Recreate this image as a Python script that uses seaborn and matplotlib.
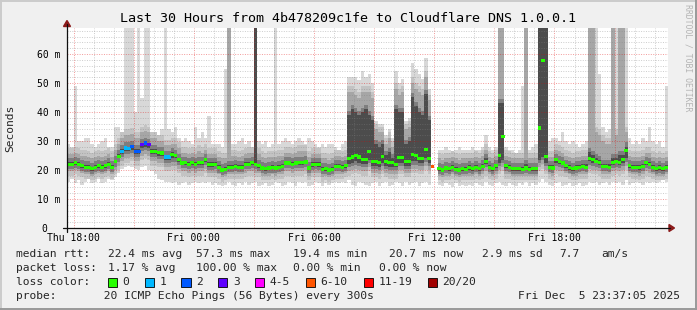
import numpy as np
import pandas as pd
import matplotlib
matplotlib.use("Agg")
import matplotlib.pyplot as plt
import matplotlib.dates as mdates
from matplotlib.ticker import MultipleLocator, FuncFormatter
from matplotlib.patches import Rectangle, Polygon
from matplotlib.lines import Line2D
import seaborn as sns

# ---------------- data ----------------
nan = float("nan")
title = "Last 30 Hours from 4b478209c1fe to Cloudflare DNS 1.0.0.1"
start_time = "2025-12-04 17:40"
step = "10min"

median_ms = [
    22, 22, 22.5, 22, 21.5, 21, 21, 20.5, 21, 21.5,
    21, 21.5, 22, 21, 23, 24.7, 26.4, 27.6, 27.5, 28,
    26.5, 26.5, 28.7, 29.3, 28.7, 26.5, 26.5, 26, 25.9, 24.5,
    24.5, 25.3, 25, 23.6, 22.4, 22.5, 22, 22.5, 22, 22.5,
    22.5, 23.5, 21.8, 21.8, 22, 20.9, 20, 20.3, 21, 21,
    21.3, 21, 21, 22, 22, 22.5, 22, 21.5, 20.7, 20.5,
    20.7, 20.9, 20.7, 21, 21.3, 22.4, 22.4, 22, 22.4, 22.6,
    22.6, 22.8, 20.7, 21.8, 22, 21.8, 20.3, 20.5, 20, 20.3,
    21.3, 21.3, 21, 21.5, 24, 24.5, 25, 24.5, 23.5, 23.5,
    26.4, 23, 23, 22.5, 24.7, 23, 22.5, 22.5, 22, 24.4,
    24.4, 23, 23, 25.3, 25, 24, 24, 27, 24, 21.3,
    nan, 20.5, 20, 20.7, 20.5, 21, 20.3, 20, 20.5, 20.3,
    20.8, 20.5, 21, 20.5, 21.3, 23, 21, 20.5, 21.5, 25,
    31.6, 21.5, 21, 20.5, 20.5, 20.5, 20.3, 20.7, 20.3, 20.5,
    20.5, 34.5, 57.7, 24.7, 21, 20.7, 23.5, 23, 22.4, 21.5,
    20.8, 20.5, 20.7, 21, 21.3, 21, 24, 23.5, 23, 22.6,
    21.3, 21.3, 21, 22.5, 23, 22.5, 23.5, 26.7, 21.5, 21,
    21, 20.8, 21.3, 22.5, 22, 21, 20.5, 20.8, 20.5, 21,
]

# upper edge of the light smoke (max ping)
smoke_max = [
    29, 28, 49, 30, 30, 31, 31, 29, 28, 29,
    30, 31, 28, 28, 35, 35, 33, 70, 70, 70,
    40, 70, 45, 70, 70, 33, 33, 32, 34, 70,
    34, 33, 35, 31, 30, 31, 30, 29, 35, 31,
    33, 31, 38.5, 29, 29, 29, 28, 55, 70, 29,
    29, 30, 31, 29, 30, 28, 70, 30, 29, 30,
    28, 29, 70, 29, 30, 31, 30, 29, 30, 31,
    30, 29, 31, 30, 29, 28, 29, 28, 29, 29,
    28, 27, 29, 30, 52, 52, 52, 51, 54, 52,
    53, 50, 37, 36, 36, 32, 34, 31, 54, 50,
    51.5, 37, 38, 57, 55, 53, 51.5, 58.5, 48, 47,
    nan, 27, 27, 28, 27, 26.5, 27, 28, 27, 27,
    27, 28, 27, 27, 28, 32, 28, 27, 28, 70,
    70, 28, 27, 27, 26, 27, 49, 70, 27, 28,
    29, 70, 70, 70, 30, 31, 31, 30, 33, 30,
    29, 30, 29, 28, 29, 30, 70, 70, 70, 53,
    35, 33, 34, 70, 70, 70, 70, 70, 31, 29,
    30, 29, 31, 30, 35, 30, 29, 30, 28, 49,
]

# upper edge of the medium smoke
smoke_hi = [
    25.5, 25.5, 26, 25.5, 25, 25, 24.5, 24, 24.5, 25,
    24.5, 25, 25.5, 24.5, 27, 29, 31, 32, 32, 32.5,
    31, 31, 33, 33.5, 33, 31, 31, 30, 30, 28.5,
    28.5, 29, 29, 27.5, 26, 26, 25.5, 26, 25.5, 26.5,
    26, 27, 25.5, 25.5, 25.5, 24.5, 24, 24, 70, 25,
    25, 24.5, 25, 25.5, 26, 26, 70, 25.5, 24.5, 24,
    24.5, 24.5, 24.5, 25, 25, 26, 26, 25.5, 26, 26.5,
    26.5, 26.5, 24.5, 25.5, 25.5, 25.5, 24, 24, 23.5, 24,
    25, 25, 24.5, 25, 47, 47, 46, 45, 47, 47,
    47, 45, 34, 33, 33, 29, 31, 28, 48, 46,
    47, 34, 35, 50, 48, 47, 46, 52, 44, 42,
    nan, 24, 23.5, 24, 24, 24.5, 24, 23.5, 24, 24,
    24, 24, 24.5, 24, 25, 27, 24.5, 24, 25, 70,
    70, 25, 24.5, 24, 24, 24, 24, 70, 24, 24,
    24, 70, 70, 70, 24.5, 24.5, 27, 26.5, 26, 25,
    24.5, 24, 24.5, 24.5, 25, 25, 70, 70, 33, 32,
    30, 29, 29, 70, 32, 70, 70, 33, 25, 24.5,
    24.5, 24.5, 25, 26, 26, 24.5, 24, 24.5, 24, 24.5,
]

# upper edge of the dark smoke core
smoke_core = [
    23.5, 23.5, 24, 23.5, 23, 22.5, 22.5, 22, 22.5, 23,
    22.5, 23, 23.5, 22.5, 24.5, 26.5, 28, 29, 29, 29.5,
    28, 28, 30, 30.5, 30, 28, 28, 27.5, 27.5, 26,
    26, 27, 26.5, 25, 24, 24, 23.5, 24, 23.5, 24,
    24, 25, 23.5, 23.5, 23.5, 22.5, 21.5, 22, 22.5, 22.5,
    23, 22.5, 22.5, 23.5, 23.5, 24, 70, 23, 22, 22,
    22, 22.5, 22, 22.5, 23, 24, 24, 23.5, 24, 24,
    24, 24.5, 22, 23.5, 23.5, 23.5, 22, 22, 21.5, 22,
    23, 23, 22.5, 23, 40, 42, 41, 40, 41, 42,
    40, 38, 30, 29, 30, 26, 27, 25, 42, 41,
    41, 30, 31, 46, 43, 41, 40, 47, 38, 33,
    nan, 22, 21.5, 22, 22, 22.5, 22, 21.5, 22, 22,
    22.5, 22, 22.5, 22, 23, 25, 22.5, 22, 23, 44,
    44, 23, 22.5, 22, 22, 22, 22, 23, 22, 22,
    22, 70, 70, 70, 22.5, 22.5, 25, 24.5, 24, 23,
    22.5, 22, 22.5, 22.5, 23, 23, 27, 26, 25, 24.5,
    23, 23, 23, 25, 25, 26, 26, 29, 23, 22.5,
    22.5, 22.5, 23, 24, 23.5, 22.5, 22, 22.5, 22, 22.5,
]

# lower edge of the medium smoke
smoke_lo = [
    19.5, 19.5, 20, 19.5, 19, 18.5, 18.5, 18, 18.5, 19,
    18.5, 19, 19.5, 18.5, 20, 21.5, 23, 24, 24, 24.5,
    23, 23, 25, 25.5, 25, 23, 23, 22.5, 22.5, 21,
    21, 21.5, 21.5, 20.5, 19.5, 19.5, 19, 19.5, 19, 19.5,
    19.5, 20.5, 19, 19, 19, 18.5, 17.5, 18, 18.5, 18.5,
    18.5, 18.5, 18.5, 19, 19.5, 19.5, 19, 19, 18, 18,
    18, 18.5, 18, 18.5, 18.5, 19.5, 19.5, 19, 19.5, 19.5,
    19.5, 20, 18, 19, 19, 19, 17.5, 18, 17.5, 18,
    18.5, 18.5, 18.5, 19, 19.5, 20, 20.5, 20, 19.5, 19.5,
    21, 19, 19, 18.5, 20, 19, 18.5, 18.5, 18.5, 20,
    20, 19, 19, 20.5, 20.5, 20, 20, 21.5, 20, 18.5,
    nan, 18, 17.5, 18, 18, 18.5, 18, 17.5, 18, 18,
    18, 18, 18.5, 18, 18.5, 19.5, 18.5, 18, 18.5, 20,
    21, 18.5, 18.5, 18, 18, 18, 18, 18, 18, 18,
    18, 21, 22, 20, 18.5, 18, 20, 19.5, 19.5, 19,
    18.5, 18, 18, 18.5, 18.5, 18.5, 20.5, 20, 20, 19.5,
    18.5, 18.5, 18.5, 19.5, 20, 19.5, 20, 21.5, 19, 18.5,
    18.5, 18, 18.5, 19.5, 19, 18.5, 18, 18, 18, 18.5,
]

# lower edge of the light smoke (min ping)
smoke_min = [
    16, 17, 15.5, 16.5, 15, 16, 17, 15.5, 16, 17,
    15.5, 16, 17, 16.5, 17.5, 19, 20.5, 21, 21.5, 21,
    20.5, 20, 21, 21.5, 20, 19.5, 18.5, 17, 16.5, 16,
    16, 15.5, 16, 15, 15.5, 16, 15, 15.5, 16, 15.5,
    16, 15.5, 16, 15, 15.5, 15, 14.5, 15, 16, 15,
    14.5, 15.5, 15, 16, 15, 15.5, 16, 14.5, 15, 15.5,
    14.5, 15, 16, 15.5, 14.5, 15, 16, 15.5, 14.5, 16,
    15.5, 16, 14.5, 15, 16, 15.5, 14.5, 15.5, 15, 15.5,
    16, 15.5, 16, 15.5, 16.5, 15, 14.5, 16, 15.5, 15,
    14.5, 15.5, 16, 14.5, 15.5, 16, 14.5, 15, 16, 15.5,
    14.5, 16, 15, 15.5, 16, 14.5, 15.5, 16, 15, 16,
    nan, 15, 14.5, 15.5, 15, 14, 15.5, 14.5, 15, 14.5,
    15, 14.5, 15.5, 15, 14.5, 16, 15, 14.5, 15.5, 16,
    15, 14.5, 15.5, 15, 14.5, 15.5, 15, 16, 14.5, 15.5,
    15, 16, 17, 16, 15, 14.5, 15.5, 16, 14.5, 15,
    15.5, 14.5, 15, 15.5, 14.5, 15, 16, 15.5, 16, 15,
    15.5, 16, 15, 16, 15.5, 16, 15, 16.5, 15, 15.5,
    16, 15.5, 15, 16, 15.5, 16, 15.5, 16, 16.5, 16,
]

# lost pings (out of 20) per step; all other steps lost none
loss_pings = {16: 1, 17: 1, 18: 1, 19: 2, 20: 2, 21: 2, 22: 3, 23: 2, 24: 3,
              29: 1, 30: 1, 109: 7}

loss_labels = ["0", "1", "2", "3", "4-5", "6-10", "11-19", "20/20"]
loss_upper = [0, 1, 2, 3, 5, 10, 19, 20]
loss_colors = ["#26ff00", "#00b8ff", "#0059ff", "#5e00ff",
               "#ff00ff", "#ff5500", "#ff0000", "#a10000"]

ytick_vals = [0, 10, 20, 30, 40, 50, 60]
ytick_labels = ["0  ", "10 m", "20 m", "30 m", "40 m", "50 m", "60 m"]
y_max = 69

rtt_label = "median rtt:"
rtt_items = ["22.4 ms avg", "57.3 ms max", "19.4 ms min", "20.7 ms now",
             "2.9 ms sd", "7.7", "am/s"]
loss_label = "packet loss:"
loss_items = ["1.17 % avg", "100.00 % max", "0.00 % min", "0.00 % now"]
loss_title = "loss color:"
probe_text = "probe:       20 ICMP Echo Pings (56 Bytes) every 300s"
stamp_text = "Fri Dec  5 23:37:05 2025"
watermark = "RRDTOOL / TOBI OETIKER"

# ---------------- drawing ----------------
sns.set_theme(style="white")
MONO = ["DejaVu Sans Mono"]
plt.rcParams["font.family"] = MONO

W, H = 697, 310
fig = plt.figure(figsize=(W / 100, H / 100), dpi=100)
fig.patch.set_facecolor("#f0f0f0")


def fx(x):
    return x / W


def fy(y):
    return 1 - y / H


L, R, T, B = 67, 668, 28, 228
ax = fig.add_axes([fx(L), fy(B), (R - L) / W, (B - T) / H])
ax.set_facecolor("white")
for s in ax.spines.values():
    s.set_visible(False)

n = len(median_ms)
for arr in (smoke_max, smoke_hi, smoke_core, smoke_lo, smoke_min):
    assert len(arr) == n
t0 = pd.Timestamp(start_time)
edges = pd.date_range(t0, periods=n + 1, freq=step)
centers = edges[:-1] + pd.Timedelta(step) / 2

med = np.asarray(median_ms, float)
hi_o = np.asarray(smoke_max, float)
hi_i = np.asarray(smoke_hi, float)
hi_c = np.asarray(smoke_core, float)
lo_i = np.asarray(smoke_lo, float)
lo_o = np.asarray(smoke_min, float)


def ext(a):
    return np.append(a, a[-1])


core_lo = np.minimum(med - 0.7, lo_i + 2.5)
core_hi = np.maximum(med + 0.5, hi_c - 0.9)
layers = [
    (lo_o, hi_o, "#d8d8d8"),
    (np.maximum(lo_o, lo_i - 1.5), np.minimum(hi_o, hi_i + 2.0), "#c3c3c3"),
    (lo_i, hi_i, "#a6a6a6"),
    (np.maximum(lo_i, core_lo - 1.1), np.minimum(hi_i, core_hi + 1.4), "#7e7e7e"),
    (core_lo, core_hi, "#4c4c4c"),
]
for lo, hi, col in layers:
    ax.fill_between(edges, ext(lo), ext(hi), step="post", color=col,
                    linewidth=0, zorder=1)


# median rtt coloured by packet loss
def loss_cat(k):
    for lab, up in zip(loss_labels, loss_upper):
        if k <= up:
            return lab
    return loss_labels[-1]


df = pd.DataFrame({
    "time": centers,
    "median": med,
    "loss": [loss_cat(loss_pings.get(i, 0)) for i in range(n)],
}).dropna()
rect_marker = [(-1.15, -1), (1.15, -1), (1.15, 1), (-1.15, 1), (-1.15, -1)]
sns.scatterplot(data=df, x="time", y="median", hue="loss",
                palette=dict(zip(loss_labels, loss_colors)),
                hue_order=loss_labels, marker=rect_marker, s=7, linewidth=0,
                legend=False, ax=ax, zorder=5)

ax.set_xlim(edges[0], edges[-1])
ax.set_ylim(0, y_max)
ax.set_xlabel("")
ax.set_ylabel("")

# grid
ax.set_yticks(ytick_vals, labels=ytick_labels)
ax.yaxis.set_minor_locator(MultipleLocator(2))
ax.xaxis.set_major_locator(mdates.HourLocator(byhour=range(0, 24, 3)))
ax.xaxis.set_minor_locator(mdates.HourLocator())


def xfmt(v, pos):
    d = mdates.num2date(v)
    return d.strftime("%a %H:%M") if d.hour % 6 == 0 else ""


ax.xaxis.set_major_formatter(FuncFormatter(xfmt))
ax.set_axisbelow(False)
ax.grid(which="minor", color="#808080", alpha=0.4, linestyle=(0, (1, 1.5)),
        linewidth=0.7)
ax.grid(which="major", color="#e00000", alpha=0.4, linestyle=(0, (1, 1.5)),
        linewidth=0.7)
ax.tick_params(axis="both", which="both", length=0, labelsize=7, labelcolor="black")
ax.tick_params(axis="y", pad=5)
ax.tick_params(axis="x", pad=3.5)
for lab in ax.get_yticklabels():
    lab.set_fontfamily(MONO)

# axis lines + arrows (RRDtool style)
axis_col = "#101010"
arrow_col = "#8b1a1a"
fig.add_artist(Line2D([fx(63), fx(670)], [fy(228), fy(228)], color=axis_col,
                      lw=0.9, transform=fig.transFigure))
fig.add_artist(Line2D([fx(67), fx(67)], [fy(232), fy(24)], color=axis_col,
                      lw=0.9, transform=fig.transFigure))
fig.add_artist(Polygon([(fx(669), fy(224.5)), (fx(669), fy(231.5)), (fx(674.5), fy(228))],
                       closed=True, color=arrow_col, transform=fig.transFigure))
fig.add_artist(Polygon([(fx(63.5), fy(26.5)), (fx(70.5), fy(26.5)), (fx(67), fy(20.5))],
                       closed=True, color=arrow_col, transform=fig.transFigure))

# texts
fig.text(fx(348), fy(19), title, ha="center", va="center", fontsize=9.6,
         family=MONO, color="black")
fig.text(fx(10), fy(128), "Seconds", rotation=90, ha="center", va="center",
         fontsize=8.1, family=MONO)
fig.text(fx(688), fy(4), watermark, rotation=270, ha="center", va="top",
         fontsize=5.9, family=MONO, color="#b4b4b4")

LX = 16
FS = 8.1
CW = 6.85


def line_text(x, y, s, **kw):
    fig.text(fx(x), fy(y), s, ha=kw.pop("ha", "left"), va="center",
             fontsize=FS, family=MONO, **kw)


line_text(LX, 254, rtt_label)
for s, x in zip(rtt_items, [107.6, 196, 293, 389, 482, 559, 601]):
    line_text(x, 254, s)
line_text(LX, 268, loss_label)
for s, x in zip(loss_items, [107.6, 196, 293, 379]):
    line_text(x, 268, s)
line_text(LX, 282, loss_title)
bx = 107.6
for lab, col in zip(loss_labels, loss_colors):
    fig.add_artist(Rectangle((fx(bx), fy(286.5)), 9 / W, 9 / H, facecolor=col,
                             edgecolor="black", lw=0.6, transform=fig.transFigure))
    line_text(bx + 14.6, 282, lab)
    bx = bx + 14.6 + CW * len(lab) + 15.5
line_text(LX, 296, probe_text)
line_text(680, 296, stamp_text, ha="right")

# outer frame shading
fig.add_artist(Line2D([0, 1], [fy(0.5), fy(0.5)], color="#cbcbcb", lw=1.4, transform=fig.transFigure))
fig.add_artist(Line2D([fx(0.5), fx(0.5)], [0, 1], color="#cbcbcb", lw=1.4, transform=fig.transFigure))
fig.add_artist(Line2D([0, 1], [fy(H - 1), fy(H - 1)], color="#999999", lw=1.4, transform=fig.transFigure))
fig.add_artist(Line2D([fx(W - 1), fx(W - 1)], [0, 1], color="#999999", lw=1.4, transform=fig.transFigure))

fig.savefig("out.png", dpi=100, facecolor=fig.get_facecolor())
